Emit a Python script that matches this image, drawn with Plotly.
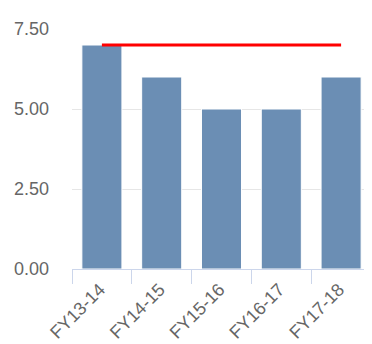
import plotly.graph_objects as go

categories = ["FY13-14", "FY14-15", "FY15-16", "FY16-17", "FY17-18"]
bar_values = [7, 6, 5, 5, 6]
target_values = [7, 7, 7, 7, 7]
y_ticks = [0, 2.5, 5, 7.5]
y_tick_labels = ["0.00", "2.50", "5.00", "7.50"]

fig = go.Figure()
fig.add_trace(go.Bar(
    x=categories, y=bar_values,
    marker=dict(color="#6b8eb4", line=dict(color="#ffffff", width=1)),
    hoverinfo="x+y",
))
fig.add_trace(go.Scatter(
    x=categories, y=target_values, mode="lines",
    line=dict(color="#ff0000", width=3),
))

# page body has an 8px default margin, so the figure is sized to fit the rest
fig.update_layout(
    width=364, height=336,
    margin=dict(l=64, r=1, t=21, b=75, autoexpand=False),
    paper_bgcolor="white", plot_bgcolor="white",
    showlegend=False,
    bargap=0.33,
    font=dict(family="Liberation Sans, Arial, sans-serif", size=18, color="#666666"),
)
fig.update_xaxes(
    type="category", automargin=False,
    showline=True, linecolor="#ccd6eb", linewidth=1,
    ticks="outside", tickson="boundaries", ticklen=14, tickcolor="#ccd6eb",
    tickangle=-45,
    ticklabelstandoff=2, ticklabelshift=-2,
    showgrid=False, zeroline=False,
    tickfont=dict(size=18, color="#666666"),
)
fig.update_yaxes(
    range=[0, 7.5], automargin=False,
    tickvals=y_ticks, ticktext=y_tick_labels,
    showgrid=True, gridcolor="#e6e6e6", gridwidth=1,
    zeroline=False, showline=False,
    ticklabelstandoff=22,
    tickfont=dict(size=18, color="#666666"),
)

fig.write_html("out.html")
